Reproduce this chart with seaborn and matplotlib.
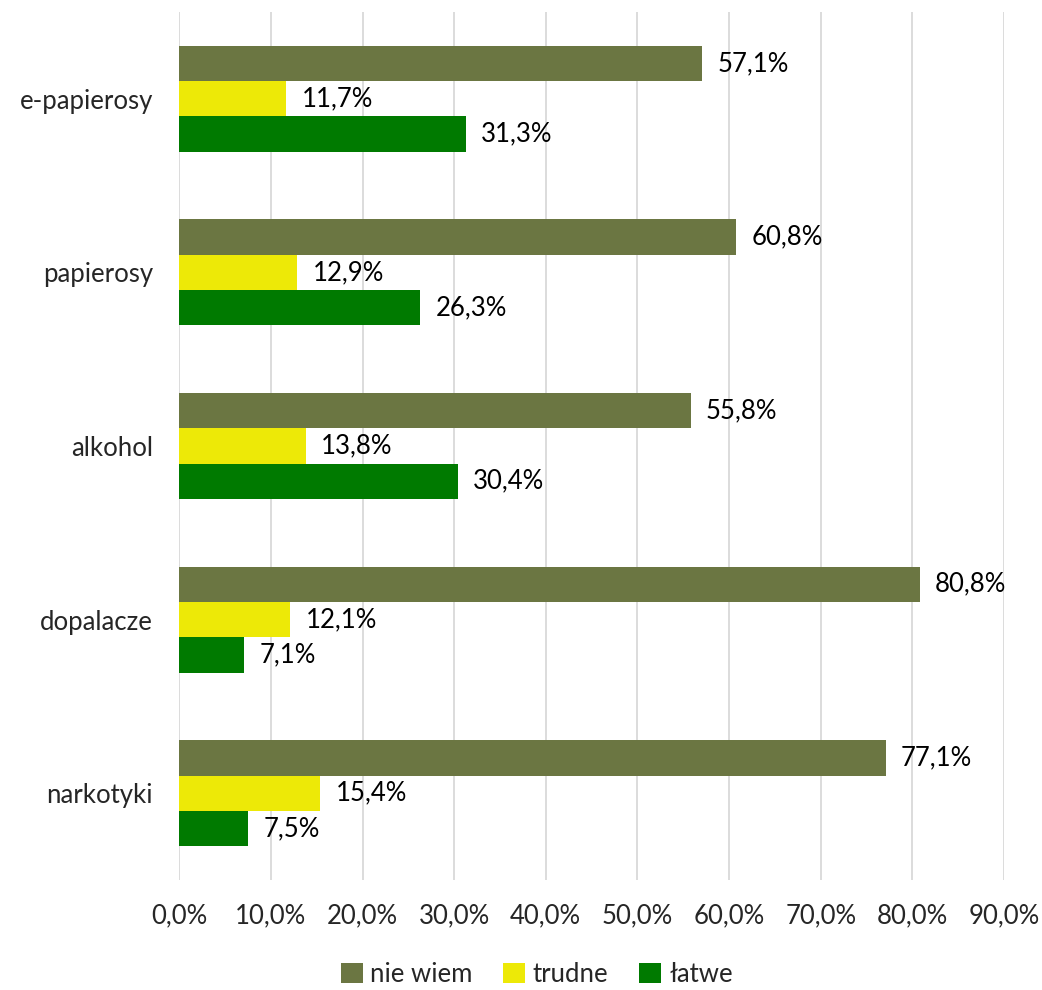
import pandas as pd
import seaborn as sns
import matplotlib.pyplot as plt
from matplotlib.ticker import FuncFormatter

# dane
kategorie = ['e-papierosy', 'papierosy', 'alkohol', 'dopalacze', 'narkotyki']
serie = ['nie wiem', 'trudne', 'łatwe']
nie_wiem = [57.1, 60.8, 55.8, 80.8, 77.1]
trudne = [11.7, 12.9, 13.8, 12.1, 15.4]
latwe = [31.3, 26.3, 30.4, 7.1, 7.5]
kolory = ['#6B7642', '#EDE907', '#007A00']

df = pd.DataFrame({
    'kategoria': kategorie * 3,
    'seria': [serie[0]] * 5 + [serie[1]] * 5 + [serie[2]] * 5,
    'wartosc': nie_wiem + trudne + latwe,
})

sns.set_style('white')
plt.rcParams['font.family'] = ['Lato', 'DejaVu Sans']
fs = 18.5

fig = plt.figure(figsize=(10.42, 9.9), dpi=100)
ax = fig.add_axes([0.172, 0.111, 0.7915, 0.877])

sns.barplot(data=df, y='kategoria', x='wartosc', hue='seria', order=kategorie,
            hue_order=serie, palette=kolory, orient='h', width=0.61,
            saturation=1, linewidth=0, ax=ax, legend=True)

# etykiety wartosci
for cont in ax.containers:
    vals = [b.get_width() for b in cont]
    txts = ax.bar_label(cont, labels=[f'{v:.1f}%'.replace('.', ',') for v in vals],
                        padding=11, fontsize=fs, color='#000000')
    for t in txts:
        t.set_y(t.get_position()[1] + 0.015)

ax.set_xlim(0, 90)
ax.set_ylim(4.5, -0.5)
ax.set_xticks(range(0, 91, 10))
ax.xaxis.set_major_formatter(FuncFormatter(lambda v, p: f'{v:.1f}%'.replace('.', ',')))
ax.grid(axis='x', color='#D9D9D9', linewidth=1.3)
ax.set_axisbelow(True)
for s in ax.spines.values():
    s.set_visible(False)
ax.tick_params(axis='x', labelsize=fs, pad=17, length=0)
ax.tick_params(axis='y', labelsize=fs, pad=19, length=0)
ax.set_xlabel('')
ax.set_ylabel('')

ax.legend(loc='center', bbox_to_anchor=(0.515, 0.016), bbox_transform=fig.transFigure,
          ncol=3, frameon=False, fontsize=fs, handlelength=0.85, handleheight=0.85,
          handletextpad=0.3, columnspacing=1.2)

plt.savefig('out.png', dpi=100)
plt.close()
